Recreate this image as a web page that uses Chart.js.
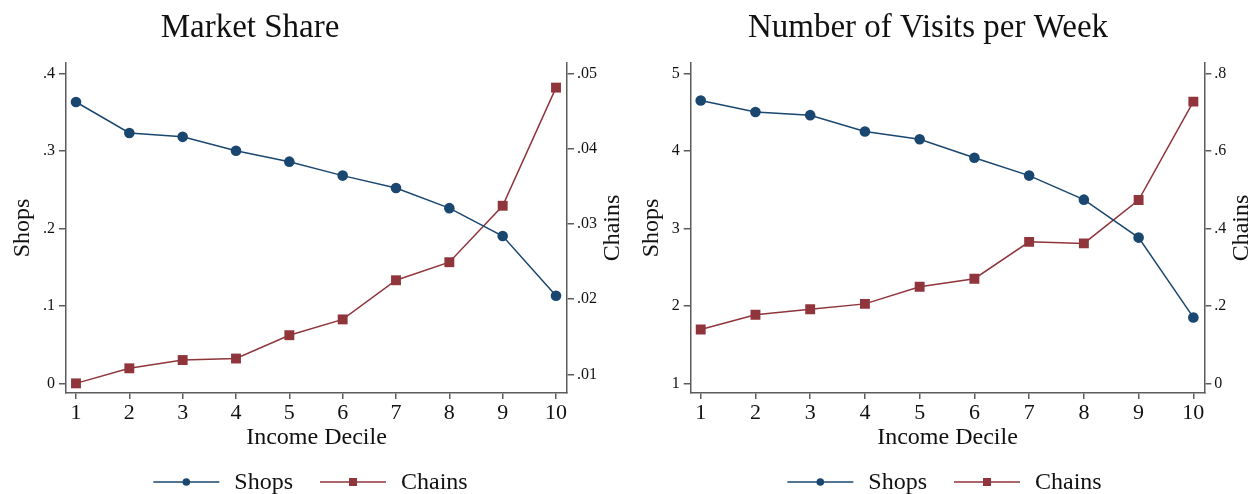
<!DOCTYPE html>
<html>
<head>
<meta charset="utf-8">
<script src="https://cdn.jsdelivr.net/npm/chart.js@4"></script>
<style>
  html, body { margin: 0; padding: 0; background: #fff; }
  #wrap { position: relative; width: 1252px; height: 494px; overflow: hidden; }
  .panel { position: absolute; top: 0; width: 626px; height: 494px; }
</style>
</head>
<body>
<div id="wrap">
  <div class="panel" style="left:0"><canvas id="share" width="626" height="494"></canvas></div>
  <div class="panel" style="left:626px"><canvas id="visits" width="626" height="494"></canvas></div>
</div>
<script>
// Income deciles on the horizontal axis
const deciles = [1, 2, 3, 4, 5, 6, 7, 8, 9, 10];

// Market share by income decile
const shareShops  = [0.363, 0.323, 0.318, 0.300, 0.286, 0.268, 0.252, 0.226, 0.190, 0.113];
const shareChains = [0.0088, 0.0108, 0.0119, 0.0121, 0.0152, 0.0173, 0.0225, 0.0249, 0.0324, 0.0481];

// Number of visits per week by income decile
const visitsShops  = [4.65, 4.50, 4.46, 4.25, 4.15, 3.91, 3.68, 3.37, 2.88, 1.85];
const visitsChains = [0.139, 0.177, 0.191, 0.205, 0.249, 0.270, 0.365, 0.361, 0.473, 0.727];

// Tick values for each axis
const shareShopsTicks   = [0, 0.1, 0.2, 0.3, 0.4];
const shareChainsTicks  = [0.01, 0.02, 0.03, 0.04, 0.05];
const visitsShopsTicks  = [1, 2, 3, 4, 5];
const visitsChainsTicks = [0, 0.2, 0.4, 0.6, 0.8];

const BLUE = '#1a476f';
const RED = '#90353b';
const AXIS = '#5c5c5c';
const INK = '#111111';
const SERIF = '"Liberation Serif", "Times New Roman", serif';

// Stata-style numbers: ".1" rather than "0.1"
function fmt(v) {
  if (v === 0) return '0';
  return String(+v.toFixed(3)).replace(/^0\./, '.').replace(/^-0\./, '-.');
}

// Panel title, right-axis title (reading upward) and a line+marker legend
const panelDecor = {
  id: 'panelDecor',
  afterDraw(chart, args, opts) {
    const ctx = chart.ctx;
    const ca = chart.chartArea;

    ctx.save();
    ctx.fillStyle = INK;
    ctx.font = '33px ' + SERIF;
    ctx.textAlign = 'center';
    ctx.textBaseline = 'alphabetic';
    ctx.fillText(opts.title, opts.titleX, opts.titleY);
    ctx.restore();

    ctx.save();
    ctx.fillStyle = INK;
    ctx.font = '24px ' + SERIF;
    ctx.translate(opts.rightTitleX, (ca.top + ca.bottom) / 2);
    ctx.rotate(-Math.PI / 2);
    ctx.textAlign = 'center';
    ctx.textBaseline = 'middle';
    ctx.fillText(opts.rightTitle, 0, 0);
    ctx.restore();

    // legend
    ctx.save();
    ctx.font = '24px ' + SERIF;
    const lineLen = 66, gap = 15, spacing = 27;
    const items = chart.data.datasets.map(ds => ({
      text: ds.label, color: ds.borderColor, style: ds.pointStyle,
      w: lineLen + gap + ctx.measureText(ds.label).width
    }));
    const total = items.reduce((s, it) => s + it.w, 0) + spacing * (items.length - 1);
    let x = (ca.left + ca.right) / 2 + opts.legendShift - total / 2;
    const y = opts.legendY;
    items.forEach(it => {
      ctx.strokeStyle = it.color;
      ctx.fillStyle = it.color;
      ctx.lineWidth = 1.5;
      ctx.beginPath();
      ctx.moveTo(x, y);
      ctx.lineTo(x + lineLen, y);
      ctx.stroke();
      const mx = x + lineLen / 2;
      if (it.style === 'rect') {
        ctx.fillRect(mx - 4, y - 4, 8, 8);
      } else {
        ctx.beginPath();
        ctx.arc(mx, y, 3.8, 0, Math.PI * 2);
        ctx.fill();
      }
      ctx.fillStyle = INK;
      ctx.textAlign = 'left';
      ctx.textBaseline = 'middle';
      ctx.fillText(it.text, x + lineLen + gap, y + 1);
      x += it.w + spacing;
    });
    ctx.restore();
  }
};

function axisStyle(tickLen, fontSize, padding) {
  return {
    grid: { drawOnChartArea: false, drawTicks: true, tickLength: tickLen, color: AXIS, lineWidth: 1.5 },
    border: { display: true, color: AXIS, width: 1.5 },
    ticks: {
      font: { family: SERIF, size: fontSize }, color: INK, padding: padding,
      autoSkip: false, maxRotation: 0, callback: v => fmt(v)
    }
  };
}

function buildPanel(canvasId, p) {
  const xAxis = axisStyle(6, 22, 1);
  const yLeft = axisStyle(7, 16, 4);
  const yRight = axisStyle(7, 16, 3);

  return new Chart(document.getElementById(canvasId), {
    type: 'line',
    data: {
      datasets: [
        {
          label: 'Shops', yAxisID: 'yL',
          data: deciles.map((d, i) => ({ x: d, y: p.shops[i] })),
          borderColor: BLUE, backgroundColor: BLUE, borderWidth: 1.5,
          pointStyle: 'circle', pointRadius: 5.3, pointBorderWidth: 0, tension: 0
        },
        {
          label: 'Chains', yAxisID: 'yR',
          data: deciles.map((d, i) => ({ x: d, y: p.chains[i] })),
          borderColor: RED, backgroundColor: RED, borderWidth: 1.5,
          pointStyle: 'rect', pointRadius: 7, pointBorderWidth: 0, tension: 0
        }
      ]
    },
    options: {
      responsive: false,
      animation: false,
      layout: { padding: { top: 63, bottom: 38.5, left: 0, right: 0 } },
      plugins: {
        legend: { display: false },
        tooltip: { enabled: false },
        panelDecor: p.decor
      },
      scales: {
        x: Object.assign(xAxis, {
          type: 'linear', position: 'bottom', min: p.xMin, max: p.xMax,
          afterBuildTicks: s => { s.ticks = deciles.map(v => ({ value: v })); },
          afterFit: s => { s.height = 62.5; },
          title: {
            display: true, text: 'Income Decile', color: INK,
            font: { family: SERIF, size: 24 }, padding: { top: 0, bottom: 3 }
          }
        }),
        yL: Object.assign(yLeft, {
          type: 'linear', position: 'left', min: p.yLMin, max: p.yLMax,
          afterBuildTicks: s => { s.ticks = p.shopsTicks.map(v => ({ value: v })); },
          afterFit: s => { s.width = p.leftWidth; },
          title: {
            display: true, text: 'Shops', color: INK,
            font: { family: SERIF, size: 24 }, padding: { top: p.leftTitlePad, bottom: 0 }
          }
        }),
        yR: Object.assign(yRight, {
          type: 'linear', position: 'right', min: p.yRMin, max: p.yRMax,
          afterBuildTicks: s => { s.ticks = p.chainsTicks.map(v => ({ value: v })); },
          afterFit: s => { s.width = p.rightWidth; }
        })
      }
    },
    plugins: [panelDecor]
  });
}

buildPanel('share', {
  shops: shareShops, chains: shareChains,
  shopsTicks: shareShopsTicks, chainsTicks: shareChainsTicks,
  xMin: 0.8125, xMax: 10.206,
  yLMin: -0.0125, yLMax: 0.4133,
  yRMin: 0.00752, yRMax: 0.05137,
  leftWidth: 66, rightWidth: 59, leftTitlePad: 8.3,
  decor: { title: 'Market Share', titleX: 250, titleY: 37,
           rightTitle: 'Chains', rightTitleX: 613, legendY: 482, legendShift: -6 }
});

buildPanel('visits', {
  shops: visitsShops, chains: visitsChains,
  shopsTicks: visitsShopsTicks, chainsTicks: visitsChainsTicks,
  xMin: 0.817, xMax: 10.2,
  yLMin: 0.875, yLMax: 5.133,
  yRMin: -0.025, yRMax: 0.8266,
  leftWidth: 64.7, rightWidth: 47.7, leftTitlePad: 11.3,
  decor: { title: 'Number of Visits per Week', titleX: 302, titleY: 37,
           rightTitle: 'Chains', rightTitleX: 615.7, legendY: 482, legendShift: -3 }
});
</script>
</body>
</html>
